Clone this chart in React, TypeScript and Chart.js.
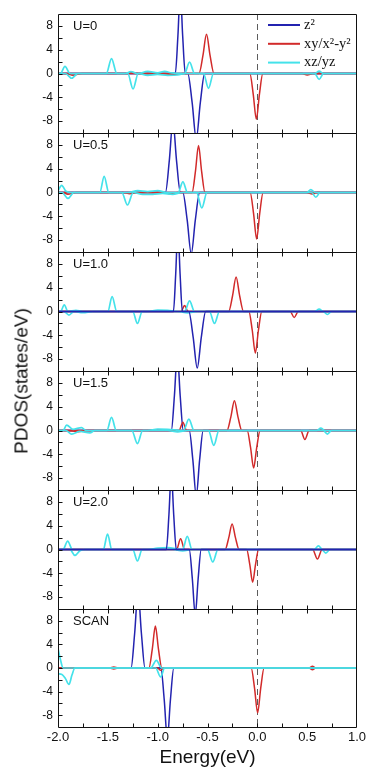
import { useEffect, useRef } from 'react';
import { Chart, registerables } from 'chart.js';

Chart.register(...registerables);

type Pt = [number, number];

// ---------------- data ----------------
const panelNames = ['U=0', 'U=0.5', 'U=1.0', 'U=1.5', 'U=2.0', 'SCAN'];
const seriesNames = ['z\u00b2', 'xy/x\u00b2-y\u00b2', 'xz/yz'];
const xTickValues = [-2.0, -1.5, -1.0, -0.5, 0.0, 0.5, 1.0];
const xMinorTickValues = [-1.75, -1.5, -1.25, -1.0, -0.75, -0.5, -0.25, 0, 0.25, 0.5, 0.75];
const yTickValues = [-8, -4, 0, 4, 8];
const yMinorTickValues = [-8, -6, -4, -2, 0, 2, 4, 6, 8];
const xMin = -2;
const xMax = 1;
const yMin = -10;
const yMax = 10;
const fermiLevel = 0;

// U=0
const u0Z2Up: Pt[] = [[-2, 0], [-0.823, 0], [-0.797, 6.3], [-0.773, 14], [-0.749, 6.3], [-0.723, 0], [1, 0]];
const u0Z2Dn: Pt[] = [[-2, 0], [-0.698, 0], [-0.654, -4.9], [-0.613, -11], [-0.572, -4.9], [-0.528, 0], [1, 0]];
const u0XyUp: Pt[] = [[-2, 0], [-1.3, 0], [-1.25, 0.15], [-1.2, 0], [-0.585, 0], [-0.546, 3.0], [-0.51, 6.6], [-0.474, 3.0], [-0.435, 0], [1, 0]];
const u0XyDn: Pt[] = [[-2, 0], [-1.92, 0], [-1.85, -0.3], [-1.76, 0], [-0.95, 0], [-0.85, -0.2], [-0.75, 0], [-0.075, 0], [-0.041, -3.5], [-0.01, -7.7], [0.021, -3.5], [0.055, 0], [0.45, 0], [0.5, -0.25], [0.56, 0], [1, 0]];
const u0XzUp: Pt[] = [[-2, 0], [-1.975, 0], [-1.93, 1.2], [-1.88, 0], [-1.515, 0], [-1.463, 2.5], [-1.41, 0], [-1.32, 0], [-1.27, 0.3], [-1.2, 0], [-1.1, 0.35], [-1.0, 0.1], [-0.93, 0.35], [-0.86, 0.1], [-0.73, 0], [-0.68, 1.9], [-0.63, 0], [0.575, 0], [0.62, 0.4], [0.665, 0], [1, 0]];
const u0XzDn: Pt[] = [[-2, 0], [-1.925, 0], [-1.863, -0.8], [-1.8, 0], [-1.3, 0], [-1.247, -2.6], [-1.195, 0], [-1.1, -0.3], [-1.0, -0.15], [-0.9, -0.3], [-0.8, -0.25], [-0.72, 0], [-0.54, 0], [-0.49, -2.5], [-0.44, 0], [0.575, 0], [0.62, -1.0], [0.665, 0], [1, 0]];

// U=0.5
const u05Z2Up: Pt[] = [[-2, 0], [-0.922, 0], [-0.883, 5.4], [-0.847, 12], [-0.811, 5.4], [-0.772, 0], [1, 0]];
const u05Z2Dn: Pt[] = [[-2, 0], [-0.748, 0], [-0.704, -4.6], [-0.663, -10.3], [-0.622, -4.6], [-0.578, 0], [1, 0]];
const u05XyUp: Pt[] = [[-2, 0], [-0.655, 0], [-0.621, 3.55], [-0.59, 7.9], [-0.559, 3.55], [-0.525, 0], [1, 0]];
const u05XyDn: Pt[] = [[-2, 0], [-1.96, 0], [-1.9, -0.3], [-1.82, 0], [-1.35, 0], [-1.28, -0.2], [-1.2, 0], [-0.95, 0], [-0.88, -0.2], [-0.8, 0], [-0.072, 0], [-0.038, -3.5], [-0.007, -7.8], [0.024, -3.5], [0.058, 0], [0.5, 0], [0.55, -0.25], [0.6, 0], [1, 0]];
const u05XzUp: Pt[] = [[-2, 0.3], [-1.963, 1.2], [-1.92, 0.2], [-1.87, 0], [-1.58, 0], [-1.537, 2.7], [-1.49, 0], [-1.3, 0], [-1.2, 0.3], [-1.1, 0.15], [-1.0, 0.3], [-0.9, 0], [-0.795, 0], [-0.747, 1.8], [-0.7, 0], [0.495, 0], [0.537, 0.5], [0.58, 0], [1, 0]];
const u05XzDn: Pt[] = [[-2, 0], [-1.96, 0], [-1.9, -1.0], [-1.84, 0], [-1.36, 0], [-1.303, -2.1], [-1.245, 0], [-1.15, -0.3], [-1.05, -0.3], [-0.95, -0.15], [-0.85, -0.3], [-0.75, 0], [-0.61, 0], [-0.557, -2.6], [-0.505, 0], [0.545, 0], [0.587, -0.8], [0.63, 0], [1, 0]];

// U=1.0
const u10Z2Up: Pt[] = [[-2, 0], [-0.842, 0], [-0.819, 6.3], [-0.797, 14], [-0.775, 6.3], [-0.752, 0], [1, 0]];
const u10Z2Dn: Pt[] = [[-2, 0], [-0.688, 0], [-0.644, -4.3], [-0.603, -9.5], [-0.562, -4.3], [-0.518, 0], [1, 0]];
const u10XyUp: Pt[] = [[-2, 0], [-0.765, 0], [-0.73, 1.0], [-0.695, 0], [-0.288, 0], [-0.249, 2.6], [-0.213, 5.8], [-0.177, 2.6], [-0.138, 0], [1, 0]];
const u10XyDn: Pt[] = [[-2, 0], [-0.085, 0], [-0.051, -3.15], [-0.02, -7.0], [0.011, -3.15], [0.045, 0], [0.33, 0], [0.37, -1.0], [0.41, 0], [1, 0]];
const u10XzUp: Pt[] = [[-2, 0], [-1.975, 0], [-1.937, 1.1], [-1.9, 0], [-1.82, 0.2], [-1.75, 0], [-1.5, 0], [-1.457, 2.5], [-1.41, 0], [-1.1, 0], [-1.0, 0.25], [-0.9, 0.2], [-0.8, 0], [-0.73, 0], [-0.68, 1.8], [-0.63, 0], [0.575, 0], [0.62, 0.4], [0.665, 0], [1, 0]];
const u10XzDn: Pt[] = [[-2, 0], [-1.94, 0], [-1.89, -0.6], [-1.84, 0], [-1.75, -0.2], [-1.65, 0], [-1.25, 0], [-1.203, -2.0], [-1.155, 0], [-0.8, 0], [-0.7, -0.25], [-0.6, 0], [-0.48, 0], [-0.43, -2.0], [-0.38, 0], [0.66, 0], [0.703, -0.5], [0.745, 0], [1, 0]];

// U=1.5
const u15Z2Up: Pt[] = [[-2, 0], [-0.863, 0], [-0.832, 5.85], [-0.803, 13], [-0.774, 5.85], [-0.743, 0], [1, 0]];
const u15Z2Dn: Pt[] = [[-2, 0], [-0.683, 0], [-0.647, -4.95], [-0.613, -11], [-0.579, -4.95], [-0.543, 0], [1, 0]];
const u15XyUp: Pt[] = [[-2, 0], [-0.785, 0], [-0.747, 1.4], [-0.71, 0], [-0.305, 0], [-0.266, 2.25], [-0.23, 5.0], [-0.194, 2.25], [-0.155, 0], [1, 0]];
const u15XyDn: Pt[] = [[-2, 0], [-1.9, 0], [-1.8, -0.2], [-1.7, 0], [-0.102, 0], [-0.068, -2.85], [-0.037, -6.3], [-0.006, -2.85], [0.028, 0], [0.435, 0], [0.477, -1.5], [0.52, 0], [1, 0]];
const u15XzUp: Pt[] = [[-2, 0], [-1.95, 0], [-1.913, 0.9], [-1.85, 0.2], [-1.763, 0.5], [-1.72, 0], [-1.51, 0], [-1.463, 2.2], [-1.415, 0], [-1.1, 0], [-1.0, 0.25], [-0.9, 0.2], [-0.74, 0], [-0.687, 1.9], [-0.635, 0], [0.595, 0], [0.637, 0.4], [0.68, 0], [1, 0]];
const u15XzDn: Pt[] = [[-2, 0], [-1.92, 0], [-1.863, -0.6], [-1.78, -0.15], [-1.68, -0.4], [-1.63, 0], [-1.26, 0], [-1.203, -2.2], [-1.15, 0], [-0.9, 0], [-0.8, -0.25], [-0.7, 0], [-0.49, 0], [-0.437, -2.5], [-0.385, 0], [0.66, 0], [0.703, -0.6], [0.745, 0], [1, 0]];

// U=2.0
const u20Z2Up: Pt[] = [[-2, 0], [-0.913, 0], [-0.887, 5.85], [-0.863, 13], [-0.839, 5.85], [-0.813, 0], [1, 0]];
const u20Z2Dn: Pt[] = [[-2, 0], [-0.683, 0], [-0.652, -4.95], [-0.623, -11], [-0.594, -4.95], [-0.563, 0], [1, 0]];
const u20XyUp: Pt[] = [[-2, 0], [-0.81, 0], [-0.77, 1.8], [-0.73, 0], [-0.323, 0], [-0.287, 1.95], [-0.253, 4.3], [-0.219, 1.95], [-0.183, 0], [1, 0]];
const u20XyDn: Pt[] = [[-2, 0], [-0.107, 0], [-0.076, -2.5], [-0.047, -5.5], [-0.018, -2.5], [0.013, 0], [0.555, 0], [0.603, -1.6], [0.65, 0], [1, 0]];
const u20XzUp: Pt[] = [[-2, 0], [-1.95, 0], [-1.903, 1.4], [-1.855, 0], [-1.545, 0], [-1.503, 2.6], [-1.46, 0], [-1.1, 0], [-1.0, 0.25], [-0.9, 0.3], [-0.75, 0], [-0.703, 2.2], [-0.655, 0], [0.57, 0], [0.613, 0.6], [0.655, 0], [1, 0]];
const u20XzDn: Pt[] = [[-2, 0], [-1.88, 0], [-1.83, -1.0], [-1.78, -0.2], [-1.72, 0], [-1.25, 0], [-1.203, -1.9], [-1.155, 0], [-0.85, 0], [-0.75, -0.25], [-0.65, 0], [-0.5, 0], [-0.447, -2.1], [-0.395, 0], [0.645, 0], [0.687, -0.6], [0.73, 0], [1, 0]];

// SCAN
const scZ2Up: Pt[] = [[-2, 0], [-1.267, 0], [-1.231, 5.85], [-1.197, 13], [-1.163, 5.85], [-1.127, 0], [1, 0]];
const scZ2Dn: Pt[] = [[-2, 0], [-0.968, 0], [-0.934, -5.4], [-0.903, -12], [-0.872, -5.4], [-0.838, 0], [1, 0]];
const scXyUp: Pt[] = [[-2, 0], [-1.48, 0], [-1.44, 0.15], [-1.4, 0], [-1.088, 0], [-1.054, 3.2], [-1.023, 7.1], [-0.992, 3.2], [-0.958, 0], [0.52, 0], [0.553, 0.3], [0.585, 0], [1, 0]];
const scXyDn: Pt[] = [[-2, 0], [-1.48, 0], [-1.44, -0.15], [-1.4, 0], [-1.0, 0], [-0.97, -0.4], [-0.94, 0], [-0.062, 0], [-0.028, -3.4], [0.003, -7.6], [0.034, -3.4], [0.068, 0], [0.52, 0], [0.553, -0.3], [0.585, 0], [1, 0]];
const scXzUp: Pt[] = [[-2, 3.3], [-1.975, 1.4], [-1.95, 0], [-1.07, 0], [-1.013, 1.3], [-0.96, 0], [1, 0]];
const scXzDn: Pt[] = [[-2, -1.0], [-1.96, -1.1], [-1.925, -1.8], [-1.89, -2.8], [-1.86, -1.2], [-1.83, 0], [-1.02, 0], [-0.97, -1.5], [-0.93, 0], [1, 0]];

// ---------------- styling / layout ----------------
const BLUE = '#2323b0';
const RED = '#d22a2a';
const CYAN = '#44e2ea';
const seriesColors = [BLUE, RED, CYAN];
const SANS = '"Liberation Sans", Arial, sans-serif';
const SERIF = '"Liberation Serif", "Times New Roman", serif';
const FIG_W = 367;
const FIG_H = 771;
const PLOT_RIGHT = 357;
const PLOT_LEFT = 58;
const PANEL_EDGES = [14, 133, 252, 371, 490, 609, 727];
const X_AXIS_H = FIG_H - PANEL_EDGES[6];

interface Panel {
  name: string;
  z2Up: Pt[]; z2Dn: Pt[]; xyUp: Pt[]; xyDn: Pt[]; xzUp: Pt[]; xzDn: Pt[];
  blueOnTop: boolean;
}

const panels: Panel[] = [
  { name: panelNames[0], z2Up: u0Z2Up, z2Dn: u0Z2Dn, xyUp: u0XyUp, xyDn: u0XyDn, xzUp: u0XzUp, xzDn: u0XzDn, blueOnTop: false },
  { name: panelNames[1], z2Up: u05Z2Up, z2Dn: u05Z2Dn, xyUp: u05XyUp, xyDn: u05XyDn, xzUp: u05XzUp, xzDn: u05XzDn, blueOnTop: false },
  { name: panelNames[2], z2Up: u10Z2Up, z2Dn: u10Z2Dn, xyUp: u10XyUp, xyDn: u10XyDn, xzUp: u10XzUp, xzDn: u10XzDn, blueOnTop: true },
  { name: panelNames[3], z2Up: u15Z2Up, z2Dn: u15Z2Dn, xyUp: u15XyUp, xyDn: u15XyDn, xzUp: u15XzUp, xzDn: u15XzDn, blueOnTop: false },
  { name: panelNames[4], z2Up: u20Z2Up, z2Dn: u20Z2Dn, xyUp: u20XyUp, xyDn: u20XyDn, xzUp: u20XzUp, xzDn: u20XzDn, blueOnTop: true },
  { name: panelNames[5], z2Up: scZ2Up, z2Dn: scZ2Dn, xyUp: scXyUp, xyDn: scXyDn, xzUp: scXzUp, xzDn: scXzDn, blueOnTop: false },
];

function canvasGeom(i: number) {
  const last = i === panels.length - 1;
  const top = PANEL_EDGES[i] - 2;
  const h = last ? FIG_H - top : PANEL_EDGES[i + 1] - PANEL_EDGES[i] + 4;
  return { top, h, last };
}

function makePlugin(index: number, name: string) {
  return {
    id: 'pdosFrame' + index,
    beforeDatasetsDraw(chart: any) {
      const { ctx, chartArea: a, scales } = chart;
      const x0 = Math.round(scales.x.getPixelForValue(fermiLevel)) + 0.5;
      ctx.save();
      ctx.strokeStyle = '#5c5c5c';
      ctx.lineWidth = 1;
      ctx.setLineDash([6, 4]);
      ctx.beginPath();
      ctx.moveTo(x0, a.top);
      ctx.lineTo(x0, a.bottom);
      ctx.stroke();
      ctx.restore();
    },
    afterDraw(chart: any) {
      const { ctx, chartArea: a, scales } = chart;
      const L = Math.round(a.left) + 0.5;
      const R = Math.round(a.right) - 0.5;
      const T = Math.round(a.top) + 0.5;
      const B = Math.round(a.bottom) + 0.5;
      ctx.save();
      ctx.strokeStyle = '#111';
      ctx.lineWidth = 1;
      ctx.beginPath();
      ctx.moveTo(L, T); ctx.lineTo(R, T); ctx.lineTo(R, B); ctx.lineTo(L, B); ctx.closePath();
      for (const v of xMinorTickValues) {
        const x = Math.round(scales.x.getPixelForValue(v)) + 0.5;
        ctx.moveTo(x, B); ctx.lineTo(x, B - 4);
        if (index > 0) { ctx.moveTo(x, T); ctx.lineTo(x, T + 4); }
      }
      for (const v of yMinorTickValues) {
        const y = Math.round(scales.y.getPixelForValue(v)) + 0.5;
        ctx.moveTo(L, y); ctx.lineTo(L + 4, y);
      }
      ctx.stroke();

      ctx.fillStyle = '#111';
      ctx.font = '13px ' + SANS;
      ctx.textBaseline = 'middle';
      ctx.textAlign = 'left';
      ctx.fillText(name, 73, a.top + 12.5);

      if (index === 0) {
        ctx.font = '14.5px ' + SERIF;
        for (let k = 0; k < seriesNames.length; k++) {
          const y = a.top + 11 + k * 18.8;
          ctx.strokeStyle = seriesColors[k];
          ctx.lineWidth = 2;
          ctx.beginPath();
          ctx.moveTo(268, y); ctx.lineTo(300, y);
          ctx.stroke();
          ctx.fillStyle = '#111';
          ctx.fillText(seriesNames[k], 304, y);
        }
      }
      ctx.restore();
    },
  };
}

function lineDs(data: Pt[], color: string, width: number, order: number) {
  return {
    data,
    borderColor: color,
    borderWidth: width,
    pointRadius: 0,
    fill: false,
    cubicInterpolationMode: 'monotone' as const,
    borderJoinStyle: 'round' as const,
    clip: 0,
    order,
  };
}

function buildConfig(p: Panel, i: number): any {
  const g = canvasGeom(i);
  const oBlue = p.blueOnTop ? 0 : 2;
  const oCyan = p.blueOnTop ? 1 : 0;
  const oRed = p.blueOnTop ? 2 : 1;
  return {
    type: 'line',
    data: {
      datasets: [
        lineDs(p.xzUp, CYAN, 1.7, oCyan),
        lineDs(p.xzDn, CYAN, 1.7, oCyan),
        lineDs(p.xyUp, RED, 1.5, oRed),
        lineDs(p.xyDn, RED, 1.5, oRed),
        lineDs(p.z2Up, BLUE, 1.5, oBlue),
        lineDs(p.z2Dn, BLUE, 1.5, oBlue),
      ],
    },
    options: {
      animation: false,
      responsive: false,
      maintainAspectRatio: false,
      devicePixelRatio: 1,
      events: [],
      layout: { padding: { left: 0, right: FIG_W - PLOT_RIGHT, top: 2, bottom: g.last ? 0 : 2 } },
      plugins: { legend: { display: false }, tooltip: { enabled: false }, title: { display: false } },
      scales: {
        x: {
          type: 'linear',
          min: xMin,
          max: xMax,
          display: g.last,
          grid: { display: false, drawTicks: false },
          border: { display: false },
          afterBuildTicks: (s: any) => { s.ticks = xTickValues.map((v) => ({ value: v })); },
          afterFit: (s: any) => {
            s.height = g.last ? X_AXIS_H : 0;
            s.paddingLeft = 0;
            s.paddingRight = 0;
          },
          ticks: {
            autoSkip: false,
            maxRotation: 0,
            padding: 3,
            color: '#111',
            font: { family: SANS, size: 13 },
            callback: (v: number) => Number(v).toFixed(1),
          },
          title: {
            display: g.last,
            text: 'Energy(eV)',
            color: '#111',
            font: { family: SANS, size: 19 },
            padding: { top: 0, bottom: 2 },
          },
        },
        y: {
          type: 'linear',
          position: 'left',
          min: yMin,
          max: yMax,
          grid: { display: false, drawTicks: false },
          border: { display: false },
          afterBuildTicks: (s: any) => { s.ticks = yTickValues.map((v) => ({ value: v })); },
          afterFit: (s: any) => { s.width = PLOT_LEFT; s.paddingTop = 0; s.paddingBottom = 0; },
          ticks: {
            autoSkip: false,
            padding: 5,
            color: '#111',
            font: { family: SANS, size: 12 },
            callback: (v: number) => String(v),
          },
        },
      },
    },
    plugins: [makePlugin(i, p.name)],
  };
}

export default function App() {
  const refs = useRef<(HTMLCanvasElement | null)[]>([]);
  useEffect(() => {
    const charts = panels.map((p, i) => new Chart(refs.current[i] as HTMLCanvasElement, buildConfig(p, i)));
    return () => charts.forEach((c) => c.destroy());
  }, []);
  return (
    <div style={{ position: 'absolute', left: 0, top: 0, width: FIG_W, height: FIG_H, background: '#fff', overflow: 'hidden' }}>
      {panels.map((_, i) => {
        const g = canvasGeom(i);
        return (
          <canvas
            key={i}
            ref={(el) => { refs.current[i] = el; }}
            width={FIG_W}
            height={g.h}
            style={{ position: 'absolute', left: 0, top: g.top, width: FIG_W, height: g.h }}
          />
        );
      })}
      <div
        style={{
          position: 'absolute',
          left: 21,
          top: 381,
          transform: 'translate(-50%, -50%) rotate(-90deg)',
          font: '19px ' + SANS,
          lineHeight: 1,
          whiteSpace: 'nowrap',
          color: '#111',
        }}
      >
        PDOS(states/eV)
      </div>
    </div>
  );
}
